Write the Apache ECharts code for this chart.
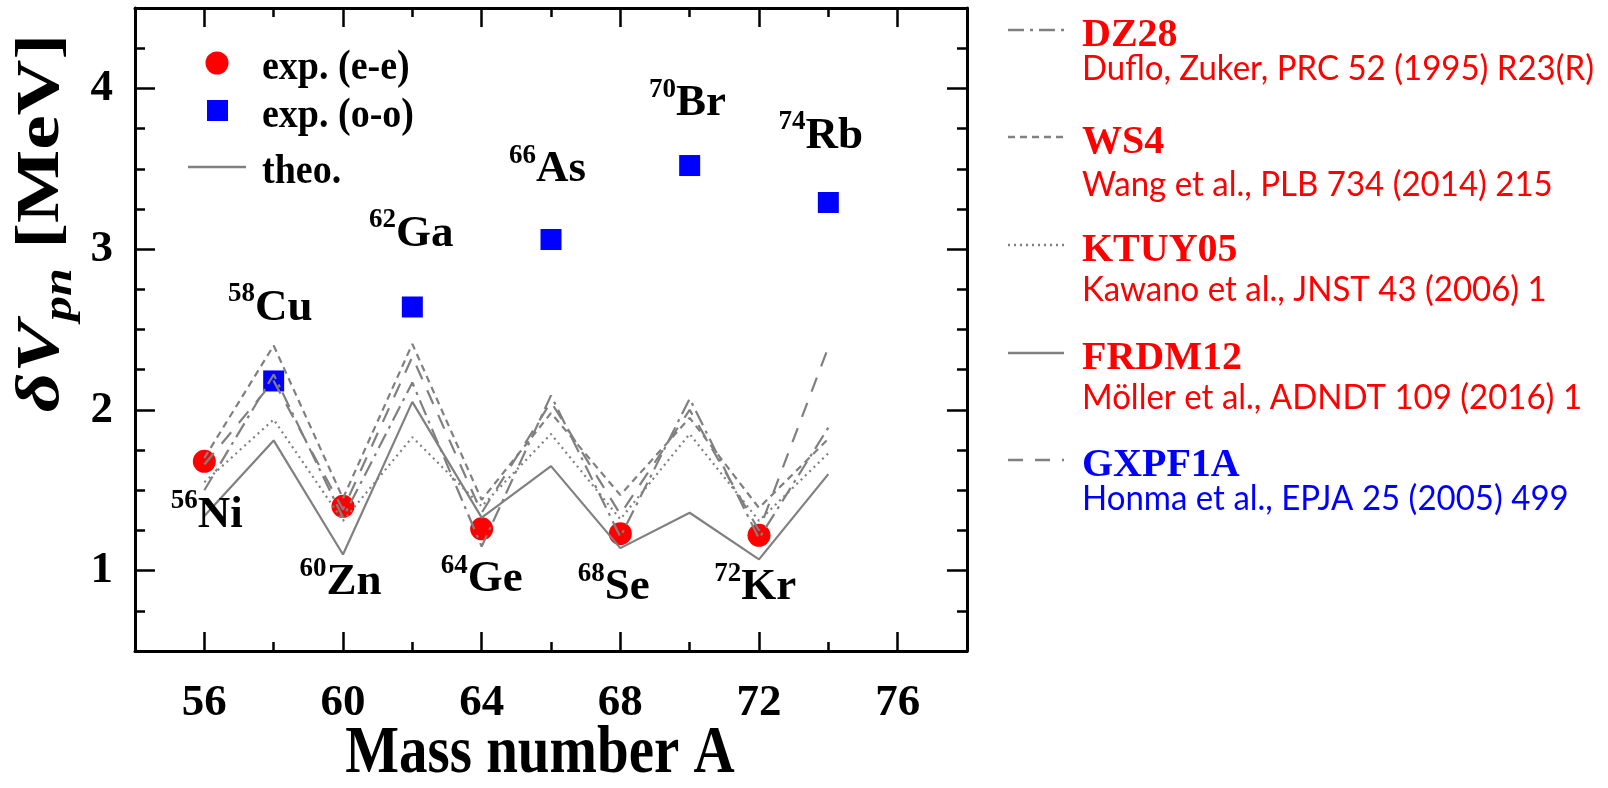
<!DOCTYPE html>
<html><head><meta charset="utf-8">
<script src="https://cdn.jsdelivr.net/npm/echarts@6/dist/echarts.min.js"></script>
<style>html,body{margin:0;padding:0;background:#fff}#c{width:1608px;height:788px}</style>
</head><body><div id="c"></div>
<script>
// ---------- data ----------
const massNumbers = [56, 58, 60, 62, 64, 66, 68, 70, 72, 74];
const dz28   = [1.50, 2.22, 1.33, 2.17, 1.15, 2.09, 1.21, 2.07, 1.20, 1.89];
const ws4    = [1.70, 2.40, 1.45, 2.41, 1.44, 1.98, 1.47, 1.95, 1.39, 1.82];
const ktuy05 = [1.55, 1.94, 1.31, 1.83, 1.40, 1.85, 1.32, 1.85, 1.31, 1.73];
const frdm12 = [1.34, 1.81, 1.10, 2.05, 1.33, 1.65, 1.14, 1.36, 1.07, 1.60];
const gxpf1a = [1.66, 2.18, 1.38, 2.33, 1.36, 2.05, 1.35, 2.00, 1.25, 2.39];

const expEvenA = [56, 60, 64, 68, 72];
const expEven  = [1.68, 1.40, 1.26, 1.23, 1.22];
const expOddA  = [58, 62, 66, 70, 74];
const expOdd   = [2.18, 2.64, 3.06, 3.52, 3.29];

const xTickLabels = [56, 60, 64, 68, 72, 76];
const yTickLabels = [1, 2, 3, 4];

// nuclide annotations (anchor in data units)
const nuclideMass = [56, 58, 60, 62, 64, 66, 68, 70, 72, 74];
const nuclideSym  = ['Ni', 'Cu', 'Zn', 'Ga', 'Ge', 'As', 'Se', 'Br', 'Kr', 'Rb'];
const nuclideAtA  = [56.07, 57.9, 59.93, 61.97, 64.0, 65.9, 67.81, 69.94, 71.89, 73.78];
const nuclideAtV  = [1.36, 2.65, 0.94, 3.11, 0.96, 3.51, 0.91, 3.92, 0.91, 3.72];

const modelNames = ['DZ28', 'WS4', 'KTUY05', 'FRDM12', 'GXPF1A'];
const modelRefs  = ['Duflo, Zuker, PRC 52 (1995) R23(R)', 'Wang et al., PLB 734 (2014) 215',
  'Kawano et al., JNST 43 (2006) 1', 'M\u00f6ller et al., ADNDT 109 (2016) 1', 'Honma et al., EPJA 25 (2005) 499'];
const modelValues = [dz28, ws4, ktuy05, frdm12, gxpf1a];

// ---------- styles ----------
const SERIF = '"Liberation Serif", "Times New Roman", serif';
const SANS = 'Lato, "Noto Sans", sans-serif';
const GRAY = '#808080';
const modelDash = [[16, 6, 3, 6], [7, 5], [2, 4], 'solid', [15, 12]];
const modelColor = ['#ff0000', '#ff0000', '#ff0000', '#ff0000', '#0000ff'];
const legendRowY = [30, 137, 245, 353, 460];
const legendRefY = [69, 185, 290, 398, 499];

const chart = echarts.init(document.getElementById('c'), null, {renderer: 'canvas'});

const tickStyle = {color: '#000', width: 2.5};
function xAx(pos, major, labels) {
  const a = {type: 'value', min: 54, max: 78, position: pos, gridIndex: 0,
    splitLine: {show: false},
    axisLine: {show: !major, onZero: false, lineStyle: {color: '#000', width: 3}},
    axisTick: {show: true, inside: true, length: major ? 19 : 9, lineStyle: tickStyle},
    axisLabel: {show: false}};
  if (major) { a.axisTick.customValues = xTickLabels; }
  else { a.interval = 2; }
  if (labels) {
    a.axisLabel = {show: true, margin: 30, color: '#000', fontFamily: SERIF, fontWeight: 'bold', fontSize: 45,
      formatter: v => xTickLabels.indexOf(Math.round(v)) >= 0 && Math.abs(v - Math.round(v)) < 1e-6 ? String(Math.round(v)) : ''};
  }
  return a;
}
function yAx(pos, major, labels) {
  const a = {type: 'value', min: 0.5, max: 4.5, position: pos, gridIndex: 0,
    splitLine: {show: false},
    axisLine: {show: !major, onZero: false, lineStyle: {color: '#000', width: 3}},
    axisTick: {show: true, inside: true, length: major ? 20 : 10, lineStyle: tickStyle},
    axisLabel: {show: false}};
  if (major) { a.axisTick.customValues = yTickLabels; }
  else { a.interval = 0.25; }
  if (labels) {
    a.axisLabel = {show: true, margin: 22, color: '#000', fontFamily: SERIF, fontWeight: 'bold', fontSize: 45,
      formatter: v => (Math.abs(v - Math.round(v)) < 1e-6 && yTickLabels.indexOf(Math.round(v)) >= 0) ? String(Math.round(v)) : ''};
  }
  return a;
}

const series = [];
series.push({name: 'exp. (e-e)', type: 'scatter', xAxisIndex: 0, yAxisIndex: 0, z: 2,
  symbol: 'circle', symbolSize: 23, itemStyle: {color: '#ff0000', opacity: 1},
  data: expEvenA.map((a, i) => [a, expEven[i]])});
series.push({name: 'exp. (o-o)', type: 'scatter', xAxisIndex: 0, yAxisIndex: 0, z: 2,
  symbol: 'rect', symbolSize: 21, itemStyle: {color: '#0000ff', opacity: 1},
  data: expOddA.map((a, i) => [a, expOdd[i]])});
modelNames.forEach((m, k) => {
  series.push({name: m, type: 'line', xAxisIndex: 0, yAxisIndex: 0, z: 3,
    symbol: 'none', showSymbol: false,
    lineStyle: {color: GRAY, width: 2.2, type: modelDash[k]},
    data: massNumbers.map((a, i) => [a, modelValues[k][i]])});
});
series.push({name: 'nuclides', type: 'scatter', xAxisIndex: 0, yAxisIndex: 0, z: 4,
  symbolSize: 0, silent: true, itemStyle: {opacity: 1},
  data: nuclideAtA.map((a, i) => [a, nuclideAtV[i]]),
  label: {show: true, position: 'inside', color: '#000', opacity: 1,
    formatter: p => '{s|' + nuclideMass[p.dataIndex] + '}{e|' + nuclideSym[p.dataIndex] + '}',
    rich: {
      s: {fontFamily: SERIF, fontWeight: 'bold', fontSize: 27, color: '#000', verticalAlign: 'top', lineHeight: 30},
      e: {fontFamily: SERIF, fontWeight: 'bold', fontSize: 45, color: '#000', verticalAlign: 'bottom', lineHeight: 50}
    }}});

const graphic = [];
// inner legend
graphic.push({type: 'circle', shape: {cx: 217, cy: 63, r: 11.5}, style: {fill: '#ff0000'}});
graphic.push({type: 'rect', shape: {x: 207, y: 100, width: 21, height: 21}, style: {fill: '#0000ff'}});
graphic.push({type: 'line', shape: {x1: 188, y1: 167, x2: 246, y2: 167}, style: {stroke: GRAY, lineWidth: 2.5}});
[['exp. (e-e)', 63], ['exp. (o-o)', 111], ['theo.', 167]].forEach(t => {
  graphic.push({type: 'text', x: 262, y: t[1] + 5, scaleY: 1.12, style: {text: t[0], fontFamily: SERIF, fontWeight: 'bold', fontSize: 38,
    fill: '#000', align: 'left', verticalAlign: 'middle'}});
});
// right legend
modelNames.forEach((m, k) => {
  const y = legendRowY[k];
  graphic.push({type: 'line', shape: {x1: 1008, y1: y, x2: 1064, y2: y},
    style: {stroke: GRAY, lineWidth: 2.5, lineDash: modelDash[k] === 'solid' ? null : modelDash[k]}});
  graphic.push({type: 'text', x: 1082, y: y + 6, style: {text: m, fontFamily: SERIF, fontWeight: 'bold', fontSize: 40,
    fill: modelColor[k], align: 'left', verticalAlign: 'middle'}});
  graphic.push({type: 'text', x: 1082, y: legendRefY[k], scaleY: 1.08, style: {text: modelRefs[k], fontFamily: SANS, fontSize: 33,
    fill: modelColor[k], align: 'left', verticalAlign: 'middle'}});
});
// axis titles
graphic.push({type: 'text', x: 46, y: 223, rotation: Math.PI / 2, scaleX: 1.25,
  style: {text: '{d|\u03b4V}{s|pn}{m| [MeV]}', align: 'center', verticalAlign: 'middle', fill: '#000',
    rich: {
      d: {fontFamily: SERIF, fontWeight: 'bold', fontStyle: 'italic', fontSize: 62, lineHeight: 70, verticalAlign: 'top', fill: '#000'},
      s: {fontFamily: SERIF, fontWeight: 'bold', fontStyle: 'italic', fontSize: 40, lineHeight: 30, verticalAlign: 'bottom', fill: '#000'},
      m: {fontFamily: SERIF, fontWeight: 'bold', fontSize: 62, lineHeight: 70, verticalAlign: 'top', fill: '#000'}
    }}});
graphic.push({type: 'text', x: 540, y: 754, scaleY: 1.2, style: {text: 'Mass number A', fontFamily: SERIF, fontWeight: 'bold', fontSize: 57,
  fill: '#000', align: 'center', verticalAlign: 'middle'}});

chart.setOption({
  animation: false,
  backgroundColor: '#fff',
  grid: {left: 135, top: 8, width: 832, height: 643, containLabel: false},
  xAxis: [xAx('bottom', false, true), xAx('bottom', true, false), xAx('top', false, false), xAx('top', true, false)],
  yAxis: [yAx('left', false, true), yAx('left', true, false), yAx('right', false, false), yAx('right', true, false)],
  series: series,
  graphic: graphic
});
</script>
</body></html>
